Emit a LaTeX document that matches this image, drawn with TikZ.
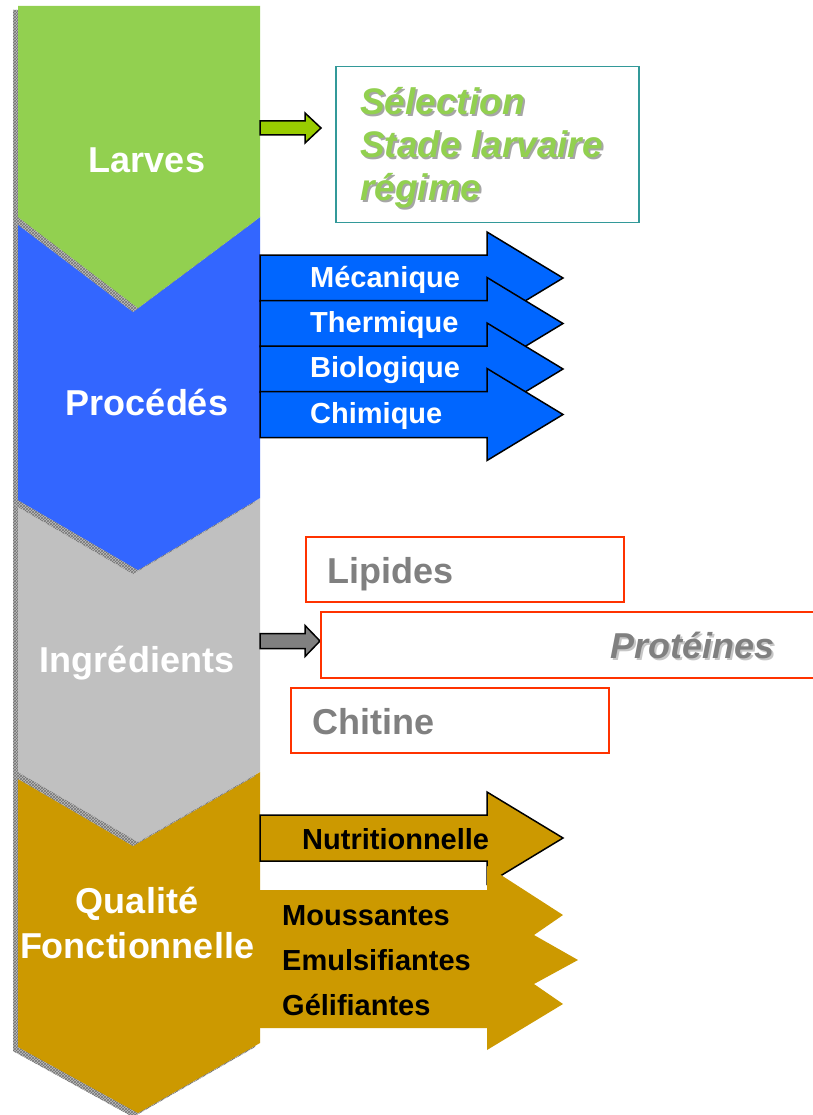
\documentclass[tikz,border=0pt]{standalone}
\usepackage{fontspec}
\setmainfont{Liberation Sans}
\usetikzlibrary{patterns}

\definecolor{larvegreen}{HTML}{92D050}
\definecolor{procblue}{HTML}{3366FF}
\definecolor{ingrgrey}{HTML}{C0C0C0}
\definecolor{qualgold}{HTML}{CC9900}
\definecolor{arrowblue}{HTML}{0066FF}
\definecolor{arrowolive}{HTML}{99CC00}
\definecolor{arrowgrey}{HTML}{808080}
\definecolor{tealframe}{HTML}{339999}
\definecolor{redframe}{HTML}{FF3300}
\definecolor{textgrey}{HTML}{808080}

% block arrow: style, left x, head base x, tip x, centre y, shaft half height, head half height
\newcommand\blockarrow[7]{%
  \path[#1] (#2,#5-#6) -- (#3,#5-#6) -- (#3,#5-#7) -- (#4,#5)
    -- (#3,#5+#7) -- (#3,#5+#6) -- (#2,#5+#6) -- cycle;}

\tikzset{
  chevshadow/.style={fill=gray!50, shift={(-5,4)},
    postaction={pattern=crosshatch, pattern color=black!55}},
  bigtitle/.style={text=white, font=\bfseries\fontsize{36}{44}\selectfont,
    inner sep=0pt, align=center},
  arrowlabel/.style={font=\bfseries\fontsize{29}{34}\selectfont,
    inner sep=0pt, anchor=base west},
  boxlabel/.style={font=\bfseries\fontsize{36}{42}\selectfont,
    inner sep=0pt, anchor=base west},
  sellabel/.style={inner sep=0pt, anchor=base west,
    font=\bfseries\itshape\fontsize{37}{42}\selectfont},
  outlinedarrow/.style={draw=black, line width=1.5pt, line join=miter},
}

\begin{document}
\begin{tikzpicture}[x=1pt, y=-1pt]
\useasboundingbox[fill=white] (0,0) rectangle (812,1115);

% ---- chevron column, drawn bottom to top so each shadow falls on the one below
\fill[chevshadow] (18,772) -- (138,842) -- (260,772) -- (260,1043) -- (138,1113) -- (18,1047) -- cycle;
\fill[qualgold] (18,772) -- (138,842) -- (260,772) -- (260,1043) -- (138,1113) -- (18,1047) -- cycle;

\fill[chevshadow] (18,500) -- (138,570) -- (260,498) -- (260,772) -- (138,842) -- (18,772) -- cycle;
\fill[ingrgrey] (18,500) -- (138,570) -- (260,498) -- (260,772) -- (138,842) -- (18,772) -- cycle;

\fill[chevshadow] (18,217) -- (138,308) -- (260,217) -- (260,498) -- (138,570) -- (18,500) -- cycle;
\fill[procblue] (18,217) -- (138,308) -- (260,217) -- (260,498) -- (138,570) -- (18,500) -- cycle;

\fill[chevshadow] (18,6) -- (260,6) -- (260,217) -- (138,308) -- (18,217) -- cycle;
\fill[larvegreen] (18,6) -- (260,6) -- (260,217) -- (138,308) -- (18,217) -- cycle;

\node[bigtitle, anchor=base] (larves) at (147,173) {Larves};
\node[bigtitle, anchor=base] (procedes) at (147,415) {Procédés};
\node[bigtitle, anchor=base] (ingredients) at (137,672) {Ingrédients};
\node[bigtitle, anchor=base] (qualite) at (137,913) {Qualité};
\node[bigtitle, anchor=base] (fonctionnelle) at (137,958) {Fonctionnelle};

% ---- Larves
\blockarrow{outlinedarrow, fill=arrowolive}{260}{305}{321}{128}{7}{15}
\node[draw=tealframe, line width=1.5pt, minimum width=303pt, minimum height=156pt,
      inner sep=0pt, anchor=north west] (selbox) at (335,66) {};
\foreach \txt/\yy [count=\i] in {Sélection/115, Stade larvaire/158, régime/201}{
  \node[sellabel, text=gray!70] (selshadow\i) at (362,\yy+2) {\txt};
  \node[sellabel, text=larvegreen] (sel\i) at (360,\yy) {\txt};
}

% ---- Procédés
\foreach \txt/\yc/\yb [count=\i] in {Mécanique/278/287, Thermique/323.5/332,
                                     Biologique/369/377, Chimique/414.5/423}{
  \blockarrow{outlinedarrow, fill=arrowblue}{260}{487}{563}{\yc}{23}{46}
  \node[arrowlabel, text=white] (proc\i) at (310,\yb) {\txt};
}

% ---- Ingrédients
\blockarrow{outlinedarrow, fill=arrowgrey}{260}{305}{320}{641}{7.5}{15.5}
\node[draw=redframe, line width=1.5pt, minimum width=318pt, minimum height=65pt,
      inner sep=0pt, anchor=north west] (lipbox) at (305,536) {};
\node[draw=redframe, line width=1.5pt, minimum width=500pt, minimum height=66pt,
      inner sep=0pt, anchor=north west] (probox) at (320,611) {};
\node[draw=redframe, line width=1.5pt, minimum width=318pt, minimum height=65pt,
      inner sep=0pt, anchor=north west] (chibox) at (290,687) {};
\node[boxlabel, text=textgrey] (lipides) at (327,583) {Lipides};
\node[boxlabel, text=gray!45, font=\bfseries\itshape\fontsize{36}{42}\selectfont]
  (proshadow) at (612,660) {Protéines};
\node[boxlabel, text=textgrey, font=\bfseries\itshape\fontsize{36}{42}\selectfont]
  (proteines) at (610,658) {Protéines};
\node[boxlabel, text=textgrey] (chitine) at (312,734) {Chitine};

% ---- Qualité fonctionnelle
\blockarrow{outlinedarrow, fill=qualgold}{260}{487}{563}{838}{23}{46}
\fill[qualgold] (260,890) -- (487,890) -- (487,866) -- (563,915) -- (534,935)
  -- (578,960) -- (534,984) -- (563,1004) -- (487,1050) -- (487,1028)
  -- (260,1028) -- cycle;
\node[arrowlabel, text=black] (nutri) at (302,849) {Nutritionnelle};
\node[arrowlabel, text=black] (mous) at (282,925) {Moussantes};
\node[arrowlabel, text=black] (emul) at (282,970) {Emulsifiantes};
\node[arrowlabel, text=black] (geli) at (282,1015) {Gélifiantes};
\end{tikzpicture}
\end{document}
